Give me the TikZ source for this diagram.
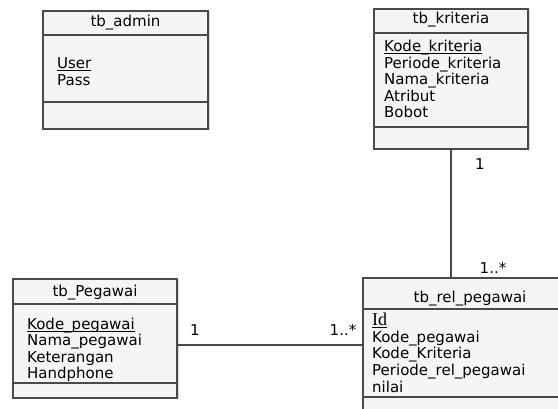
\documentclass[tikz,border=0pt]{standalone}
\usepackage{fontspec}
\setmainfont{DejaVu Sans}
\newfontfamily\idfont{Liberation Serif}
\usetikzlibrary{shadows}
\definecolor{linec}{HTML}{4A4A4A}
\definecolor{boxfill}{HTML}{F5F5F5}
\newcommand{\keyul}[1]{\underline{\smash{#1}}}
\tikzset{
  classbox/.style={draw=linec, fill=boxfill, line width=1.1pt, inner sep=0pt, outer sep=0pt,
    anchor=north west, drop shadow={opacity=0.3, shadow xshift=1.5pt, shadow yshift=-1.5pt}},
  sepline/.style={draw=linec, line width=1.1pt},
  conn/.style={draw=linec, line width=1.1pt},
  txt/.style={inner sep=0pt, font=\fontsize{15}{16.5}\selectfont},
  attr/.style={txt, anchor=base west},
  ttl/.style={txt, anchor=base},
  mult/.style={txt, anchor=base},
}
\begin{document}
\begin{tikzpicture}[x=1pt, y=-1pt]
\useasboundingbox (0,0) rectangle (558,409);
\fill[white] (0,0) rectangle (558,409);
\clip (0,0) rectangle (558,409);

% tb_admin
\node[classbox, minimum width=165pt, minimum height=118pt] (admin) at (43,11) {};
\coordinate (adminh) at (0,35);
\coordinate (admino) at (0,102);
\draw[sepline] (admin.west |- adminh) -- (admin.east |- adminh);
\draw[sepline] (admin.west |- admino) -- (admin.east |- admino);
\node[ttl] (adminT) at (125.5,27) {tb\_admin};
\node[attr] (adminA1) at (57,69) {\keyul{User}};
\node[attr] (adminA2) at (57,86) {Pass};

% tb_kriteria
\node[classbox, minimum width=154pt, minimum height=140pt] (kri) at (374,9) {};
\coordinate (krih) at (0,33);
\coordinate (krio) at (0,127);
\draw[sepline] (kri.west |- krih) -- (kri.east |- krih);
\draw[sepline] (kri.west |- krio) -- (kri.east |- krio);
\node[ttl] (kriT) at (451,24) {tb\_kriteria};
\node[attr] (kriA1) at (384,52) {\keyul{Kode\_kriteria}};
\node[attr] (kriA2) at (384,68.5) {Periode\_kriteria};
\node[attr] (kriA3) at (384,85) {Nama\_kriteria};
\node[attr] (kriA4) at (384,101.5) {Atribut};
\node[attr] (kriA5) at (384,118) {Bobot};

% tb_Pegawai
\node[classbox, minimum width=164pt, minimum height=119pt] (peg) at (13,279) {};
\coordinate (pegh) at (0,304);
\coordinate (pego) at (0,383);
\draw[sepline] (peg.west |- pegh) -- (peg.east |- pegh);
\draw[sepline] (peg.west |- pego) -- (peg.east |- pego);
\node[ttl] (pegT) at (95,297) {tb\_Pegawai};
\node[attr] (pegA1) at (27,329.5) {\keyul{Kode\_pegawai}};
\node[attr] (pegA2) at (27,346) {Nama\_pegawai};
\node[attr] (pegA3) at (27,362.5) {Keterangan};
\node[attr] (pegA4) at (27,379) {Handphone};

% tb_rel_pegawai
\node[classbox, minimum width=214pt, minimum height=150pt] (rel) at (363,278) {};
\coordinate (relh) at (0,309);
\coordinate (relo) at (0,397);
\draw[sepline] (rel.west |- relh) -- (rel.east |- relh);
\draw[sepline] (rel.west |- relo) -- (rel.east |- relo);
\node[ttl] (relT) at (470,302.5) {tb\_rel\_pegawai};
\node[attr] (relA1) at (372,325.5) {\keyul{\idfont\fontsize{18}{18}\selectfont Id}};
\node[attr] (relA2) at (372,342.5) {Kode\_pegawai};
\node[attr] (relA3) at (372,359) {Kode\_Kriteria};
\node[attr] (relA4) at (372,376) {Periode\_rel\_pegawai};
\node[attr] (relA5) at (372,392.5) {nilai};

% connectors
\draw[conn] (kri.south) -- (kri.south |- rel.north);
\coordinate (hl) at (0,345);
\draw[conn] (peg.east |- hl) -- (rel.west |- hl);

% multiplicities
\node[mult] (m1) at (480,169.5) {1};
\node[mult] (m2) at (493,274) {1..*};
\node[mult] (m3) at (195,335.5) {1};
\node[mult] (m4) at (343,335.5) {1..*};
\end{tikzpicture}
\end{document}
